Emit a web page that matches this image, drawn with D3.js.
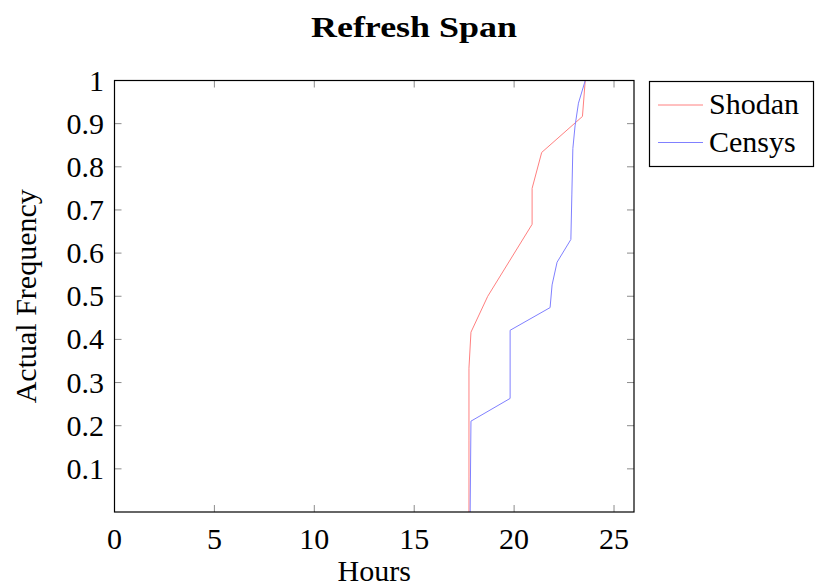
<!DOCTYPE html>
<meta charset="utf-8">
<style>
  body { margin: 0; background: #fff; }
  svg text { font-family: "Liberation Serif", "DejaVu Serif", serif; fill: #000; }
</style>
<body>
<div id="chart"></div>
<script src="https://d3js.org/d3.v7.min.js"></script>
<script>
// Refresh span CDF, hours vs. cumulative frequency
const seriesNames = ["Shodan", "Censys"];
const seriesColors = ["#ff8080", "#8080ff"];

const shodanHours = [17.74, 17.74, 17.74, 17.74, 17.84, 18.68, 20.90, 20.90, 21.38, 23.42, 23.56];
const shodanFreq  = [0, 0.0833, 0.1667, 0.3333, 0.4167, 0.5, 0.6667, 0.75, 0.8333, 0.9167, 1];

const censysHours = [17.80, 17.84, 19.80, 19.80, 21.80, 21.90, 22.15, 22.84, 22.89, 22.94, 23.05, 23.22, 23.56];
const censysFreq  = [0, 0.2105, 0.2632, 0.4211, 0.4737, 0.5263, 0.5789, 0.6316, 0.7368, 0.8421, 0.8947, 0.9474, 1];

const xTicks = [0, 5, 10, 15, 20, 25];
const yTicks = [0.1, 0.2, 0.3, 0.4, 0.5, 0.6, 0.7, 0.8, 0.9, 1];

const width = 815, height = 588;
const margin = {left: 114.5, right: 181, top: 80.5, bottom: 76};
const fs = "30px";

const svg = d3.select("#chart").append("svg")
  .attr("width", width)
  .attr("height", height);

const x = d3.scaleLinear().domain([0, 26]).range([margin.left, width - margin.right]);
const y = d3.scaleLinear().domain([0, 1]).range([height - margin.bottom, margin.top]);

// tick marks inside the frame on all four sides
const tickLen = 7;
const tickColor = "#8c8c8c";
xTicks.forEach(t => {
  svg.append("line").attr("x1", x(t)).attr("x2", x(t))
    .attr("y1", y(0)).attr("y2", y(0) - tickLen)
    .attr("stroke", tickColor).attr("stroke-width", 1);
  svg.append("line").attr("x1", x(t)).attr("x2", x(t))
    .attr("y1", y(1)).attr("y2", y(1) + tickLen)
    .attr("stroke", tickColor).attr("stroke-width", 1);
});
yTicks.forEach(t => {
  svg.append("line").attr("x1", x(0)).attr("x2", x(0) + tickLen)
    .attr("y1", y(t)).attr("y2", y(t))
    .attr("stroke", tickColor).attr("stroke-width", 1);
  svg.append("line").attr("x1", x(26)).attr("x2", x(26) - tickLen)
    .attr("y1", y(t)).attr("y2", y(t))
    .attr("stroke", tickColor).attr("stroke-width", 1);
});

// data lines
const line = d3.line().x(d => x(d[0])).y(d => y(d[1]));
const series = [
  d3.zip(shodanHours, shodanFreq),
  d3.zip(censysHours, censysFreq)
];
series.forEach((s, i) => {
  svg.append("path")
    .datum(s)
    .attr("d", line)
    .attr("fill", "none")
    .attr("stroke", seriesColors[i])
    .attr("stroke-width", 1);
});

// frame
svg.append("rect")
  .attr("x", x(0)).attr("y", y(1))
  .attr("width", x(26) - x(0)).attr("height", y(0) - y(1))
  .attr("fill", "none").attr("stroke", "#000").attr("stroke-width", 1.2);

// tick labels
svg.selectAll(".xl").data(xTicks).join("text")
  .attr("x", d => x(d)).attr("y", 549)
  .attr("text-anchor", "middle")
  .style("font-size", fs)
  .text(d => d);

svg.selectAll(".yl").data(yTicks).join("text")
  .attr("x", 104).attr("y", d => y(d) + 10)
  .attr("text-anchor", "end")
  .style("font-size", fs)
  .text(d => d === 1 ? "1" : d.toFixed(1));

// axis titles
svg.append("text")
  .attr("x", x(13)).attr("y", 581)
  .attr("text-anchor", "middle")
  .style("font-size", fs)
  .text("Hours");

svg.append("text")
  .attr("transform", `translate(36,${(y(0) + y(1)) / 2}) rotate(-90)`)
  .attr("text-anchor", "middle")
  .style("font-size", fs)
  .text("Actual Frequency");

svg.append("text")
  .attr("x", 414).attr("y", 37)
  .attr("text-anchor", "middle")
  .attr("textLength", 206)
  .attr("lengthAdjust", "spacingAndGlyphs")
  .style("font-size", "30px")
  .style("font-weight", "bold")
  .text("Refresh Span");

// legend
const legend = svg.append("g");
legend.append("rect")
  .attr("x", 649.5).attr("y", 81.5)
  .attr("width", 164).attr("height", 85)
  .attr("fill", "#fff").attr("stroke", "#000").attr("stroke-width", 1.2);
seriesNames.forEach((name, i) => {
  const ly = 105 + i * 37.5;
  legend.append("line")
    .attr("x1", 658).attr("x2", 703)
    .attr("y1", ly).attr("y2", ly)
    .attr("stroke", seriesColors[i]).attr("stroke-width", 1);
  legend.append("text")
    .attr("x", 709).attr("y", ly + 9)
    .style("font-size", fs)
    .text(name);
});
</script>
</body>
